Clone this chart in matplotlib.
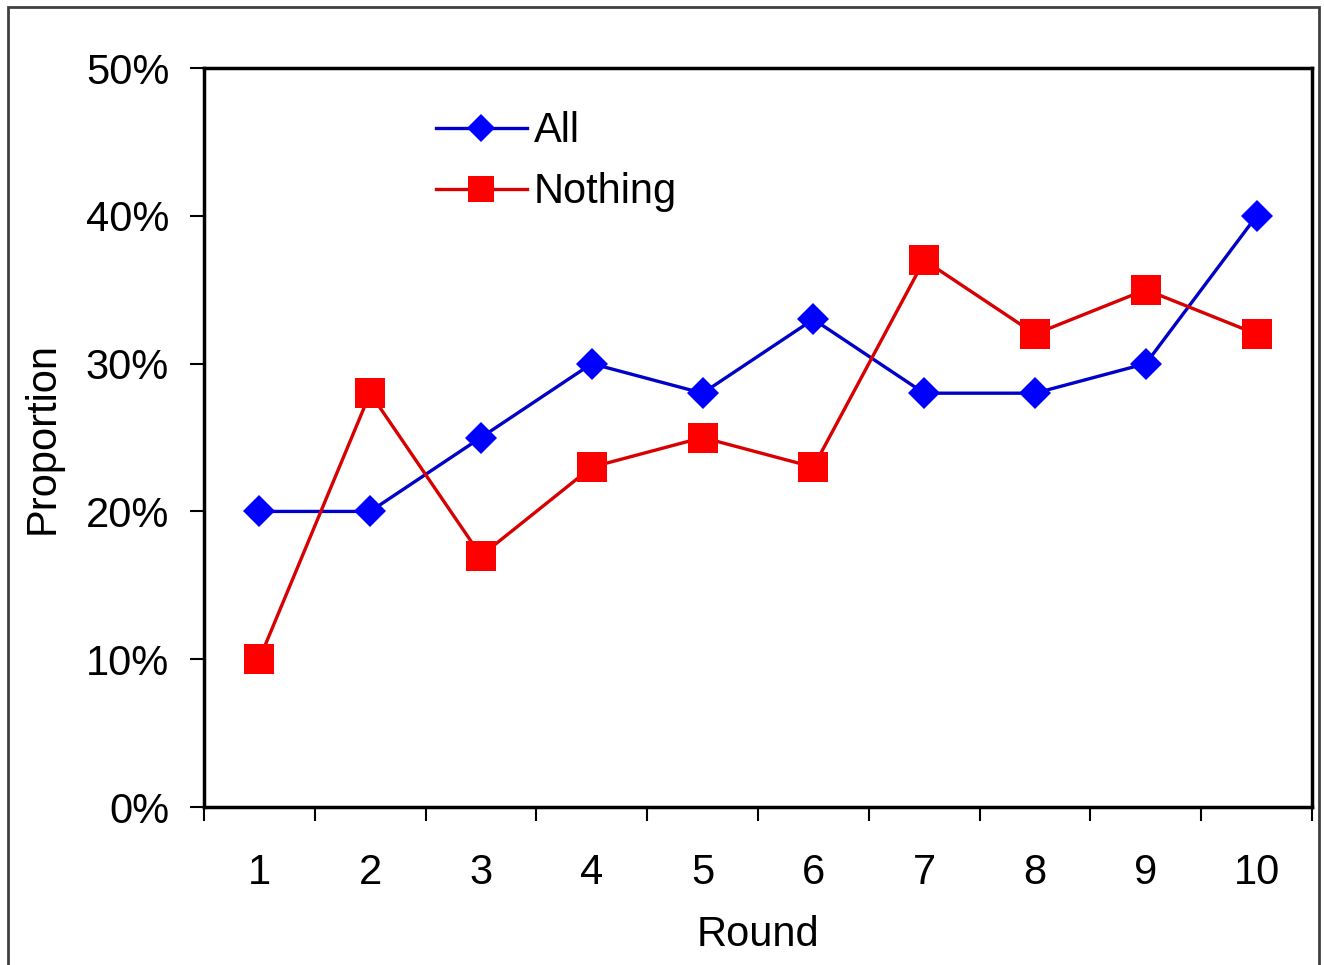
import matplotlib.pyplot as plt
from matplotlib.patches import Rectangle
from matplotlib.ticker import FixedLocator, PercentFormatter

plt.rcParams['font.family'] = ['Liberation Sans', 'DejaVu Sans']

rounds = [1, 2, 3, 4, 5, 6, 7, 8, 9, 10]
all_pct = [20, 20, 25, 30, 28, 33, 28, 28, 30, 40]
nothing_pct = [10, 28, 17, 23, 25, 23, 37, 32, 35, 32]

fig = plt.figure(figsize=(13.24, 9.65), dpi=100)
ax = fig.add_axes([0.154, 0.1637, 0.837, 0.7658])

ax.plot(rounds, all_pct, color='#0000c8', lw=2.4, marker='D', markersize=16,
        markerfacecolor='#0000ff', markeredgecolor='#0000ff', markeredgewidth=0, label='All')
ax.plot(rounds, nothing_pct, color='#d80000', lw=2.4, marker='s', markersize=21,
        markerfacecolor='#ff0000', markeredgecolor='#ff0000', markeredgewidth=0, label='Nothing')

ax.set_xlim(0.5, 10.5)
ax.set_ylim(0, 50)
ax.set_yticks(range(0, 51, 10))
ax.yaxis.set_major_formatter(PercentFormatter(decimals=0))
ax.set_xticks(rounds)
ax.xaxis.set_minor_locator(FixedLocator([r + 0.5 for r in range(0, 11)]))
ax.tick_params(axis='x', which='major', length=0, pad=33, labelsize=30)
ax.tick_params(axis='x', which='minor', length=10, width=1.5, direction='out')
ax.tick_params(axis='y', length=10, width=1.5, pad=15, labelsize=30)
for s in ax.spines.values():
    s.set_linewidth(2.5)

ax.set_xlabel('Round', fontsize=30, labelpad=16)
ax.set_ylabel('Proportion', fontsize=30, labelpad=17)

ax.legend(loc='upper left', bbox_to_anchor=(0.194, 0.964), frameon=False, fontsize=30,
          markerscale=0.9, handlelength=2.2, handletextpad=0.15, labelspacing=0.5,
          borderaxespad=0)

fig.patches.append(Rectangle((0.006, -0.01), 0.99, 1.003, transform=fig.transFigure,
                             fill=False, edgecolor='#404040', lw=2))

fig.savefig('out.png', dpi=100)
